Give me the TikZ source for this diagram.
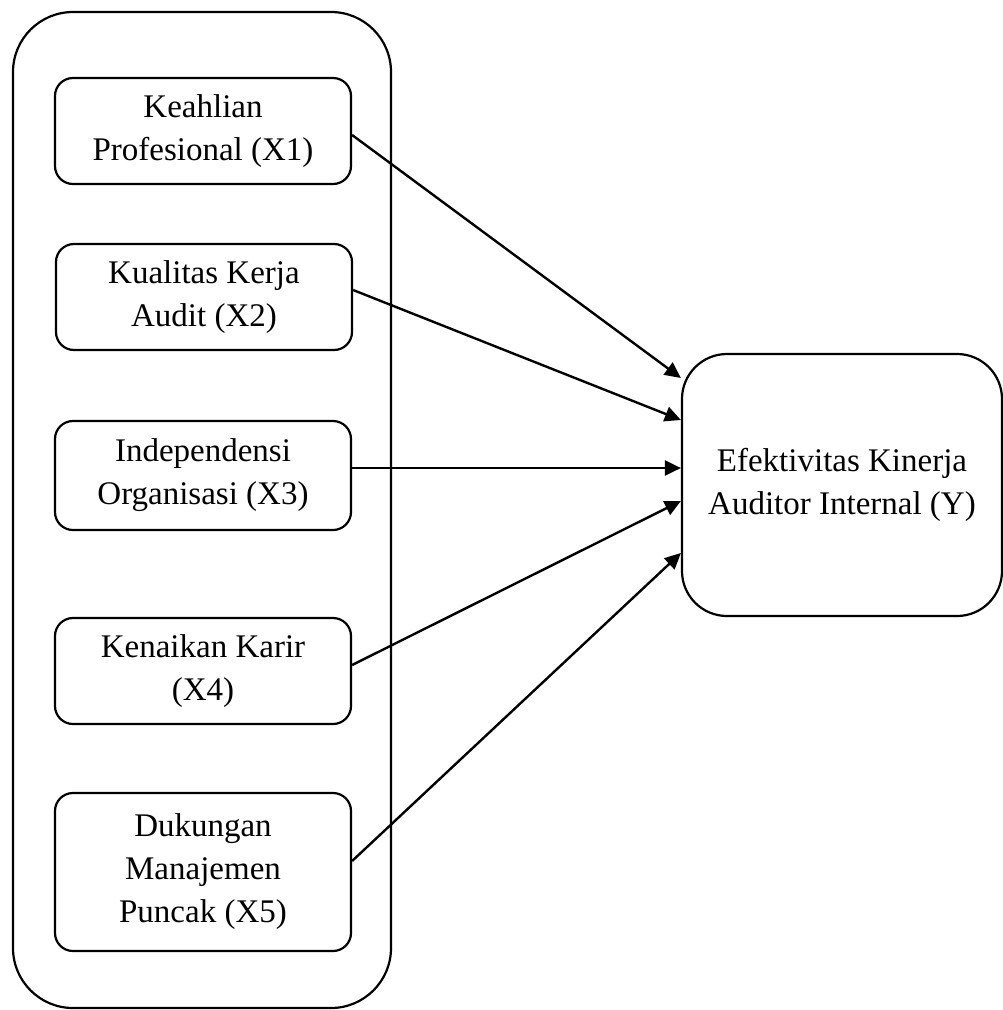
\documentclass[tikz,border=0pt]{standalone}
\usepackage{fontspec}
\setmainfont{Liberation Serif}
\usetikzlibrary{arrows.meta,calc}
\begin{document}
\begin{tikzpicture}[x=1pt,y=-1pt,
  every node/.style={font=\fontsize{33}{43}\selectfont, align=center, inner sep=0pt},
  varbox/.style={draw, line width=2.2pt, rounded corners=18pt, minimum width=296pt, minimum height=106pt},
  groupbox/.style={draw, line width=2.2pt, rounded corners=60pt, minimum width=378pt, minimum height=996pt},
  ybox/.style={draw, line width=2.2pt, rounded corners=45pt, minimum width=320pt, minimum height=262pt},
  link/.style={line width=2.4pt, -{Triangle[length=16pt,width=15pt]}}
]
\useasboundingbox (0,0) rectangle (1003,1010);
\node[groupbox] (group) at (202,510) {};
\node[varbox] (X1) at (203,131) {Keahlian\\Profesional (X1)};
\node[varbox] (X2) at (204,297) {Kualitas Kerja\\Audit (X2)};
\node[varbox, minimum height=109pt] (X3) at (203,475.5) {Independensi\\Organisasi (X3)};
\node[varbox] (X4) at (203,671) {Kenaikan Karir\\(X4)};
\node[varbox, minimum height=158pt] (X5) at (203,872) {Dukungan\\Manajemen\\Puncak (X5)};
\node[ybox] (Y) at (842,485) {Efektivitas Kinerja\\Auditor Internal (Y)};
\draw[link] ($(X1.east)+(0,4)$) -- ($(Y.west)+(0,-107)$);
\draw[link] ($(X2.east)+(0,-7)$) -- ($(Y.west)+(0,-65)$);
\draw[link] ($(X3.east)+(0,-7.5)$) -- ($(Y.west)+(0,-17)$);
\draw[link] ($(X4.east)+(0,-6)$) -- ($(Y.west)+(0,16)$);
\draw[link] ($(X5.east)+(0,-11)$) -- ($(Y.west)+(0,68)$);
\end{tikzpicture}
\end{document}
